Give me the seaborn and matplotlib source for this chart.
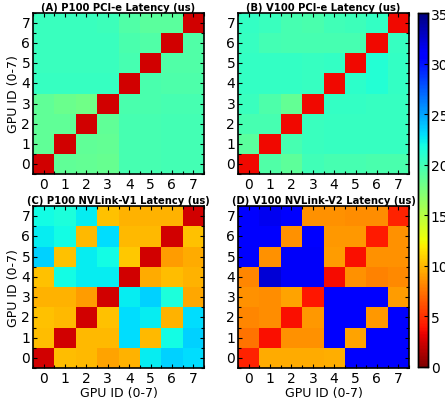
import numpy as np
import matplotlib
matplotlib.use("Agg")
import matplotlib.pyplot as plt
import seaborn as sns

gpu_ids = [0, 1, 2, 3, 4, 5, 6, 7]
titles = ["(A) P100 PCI-e Latency (us)", "(B) V100 PCI-e Latency (us)",
          "(C) P100 NVLink-V1 Latency (us)", "(D) V100 NVLink-V2 Latency (us)"]
axis_label = "GPU ID (0-7)"
cbar_ticks = [0, 5, 10, 15, 20, 25, 30, 35]

# rows: source GPU 0..7 (row 0 is drawn at the bottom), columns: GPU 0..7
p100_pcie = [
    [2.5, 18.6, 18.5, 18.4, 19.8, 19.8, 19.9, 19.9],
    [18.6, 2.5, 18.6, 18.5, 19.8, 19.8, 19.9, 19.9],
    [18.6, 18.6, 2.5, 18.6, 19.8, 19.8, 19.9, 19.9],
    [18.6, 18.2, 18.0, 2.5, 19.6, 19.6, 19.7, 19.7],
    [20.4, 20.4, 20.5, 20.5, 2.5, 19.6, 19.5, 19.5],
    [20.3, 20.3, 20.3, 20.3, 19.7, 2.5, 19.3, 19.3],
    [20.3, 20.3, 20.3, 20.3, 19.6, 19.4, 2.5, 19.3],
    [20.3, 20.3, 20.3, 20.2, 19.4, 19.0, 19.0, 2.5],
]
v100_pcie = [
    [3.5, 19.3, 18.8, 20.0, 19.8, 19.8, 19.6, 19.6],
    [19.0, 3.5, 19.8, 20.3, 20.5, 20.5, 20.4, 20.4],
    [19.8, 19.7, 3.5, 20.3, 20.5, 20.5, 20.4, 20.4],
    [20.3, 19.5, 18.5, 3.5, 20.6, 20.6, 20.4, 20.4],
    [20.6, 20.6, 20.6, 20.5, 3.5, 20.8, 21.2, 20.6],
    [20.6, 20.6, 20.6, 20.5, 20.6, 3.5, 21.2, 20.6],
    [20.5, 19.9, 19.8, 19.8, 19.8, 19.8, 3.5, 20.5],
    [20.6, 20.3, 19.8, 19.6, 20.0, 20.1, 20.6, 3.5],
]
p100_nvlink = [
    [2.5, 10.2, 10.0, 9.2, 9.8, 22.5, 23.5, 23.0],
    [10.2, 2.5, 10.0, 10.0, 23.0, 10.0, 22.0, 23.5],
    [10.3, 10.0, 2.5, 10.3, 23.0, 22.5, 9.8, 23.0],
    [9.8, 9.8, 9.0, 2.5, 22.5, 23.5, 21.5, 9.3],
    [10.3, 22.0, 22.5, 22.5, 2.5, 9.5, 10.2, 9.8],
    [23.5, 10.3, 22.5, 22.0, 10.6, 2.5, 9.0, 9.5],
    [22.5, 22.0, 10.0, 23.0, 10.0, 10.0, 2.5, 10.3],
    [22.0, 21.5, 22.5, 10.3, 9.8, 9.8, 9.8, 2.5],
]
v100_nvlink = [
    [4.5, 9.5, 9.5, 9.5, 9.6, 31.0, 31.0, 31.0],
    [7.5, 3.8, 8.6, 8.6, 31.0, 9.2, 31.0, 31.0],
    [8.2, 8.4, 3.8, 8.8, 31.0, 31.0, 8.8, 31.0],
    [8.6, 8.4, 9.2, 4.0, 31.0, 31.0, 31.0, 9.0],
    [8.2, 32.3, 31.2, 31.2, 3.6, 8.6, 8.0, 8.3],
    [31.0, 8.6, 31.2, 31.2, 9.0, 3.8, 8.6, 8.6],
    [31.0, 31.0, 8.6, 31.0, 8.8, 8.8, 4.2, 8.6],
    [31.0, 31.5, 31.0, 8.6, 8.6, 8.4, 8.4, 4.4],
]
datasets = [p100_pcie, v100_pcie, p100_nvlink, v100_nvlink]

fig = plt.figure(figsize=(4.45, 4.06), dpi=100)
W, H = 445, 406
def rect(l, t, r, b):
    return [l / W, 1 - b / H, (r - l) / W, (b - t) / H]

axes_rects = [rect(33, 14, 204, 175), rect(238, 14, 409, 175),
              rect(33, 207, 204, 369), rect(238, 207, 409, 369)]
cax = fig.add_axes(rect(418, 14, 428, 368))

for i, (data, title, r) in enumerate(zip(datasets, titles, axes_rects)):
    ax = fig.add_axes(r)
    arr = np.array(data)
    sns.heatmap(arr, ax=ax, cmap="jet_r", vmin=0, vmax=35,
                cbar=(i == 0), cbar_ax=cax if i == 0 else None,
                square=False, xticklabels=gpu_ids, yticklabels=gpu_ids)
    ax.invert_yaxis()
    ax.set_title(title, fontsize=7.2, fontweight="bold", pad=2)
    ax.set_xticks(np.arange(8) + 0.5)
    ax.set_xticklabels(gpu_ids, rotation=0, fontsize=10)
    ax.set_yticks(np.arange(8) + 0.5)
    ax.set_yticklabels(gpu_ids, rotation=0, fontsize=10)
    ax.set_xticks(np.arange(0, 9), minor=True)
    ax.set_yticks(np.arange(0, 9), minor=True)
    ax.tick_params(which="both", direction="in", top=True, right=True,
                   length=3, width=0.8, pad=2)
    ax.tick_params(which="minor", length=2)
    for s in ax.spines.values():
        s.set_visible(True)
        s.set_linewidth(1.2)
    if i % 2 == 0:
        ax.set_ylabel(axis_label, fontsize=9, labelpad=1)
    else:
        ax.set_ylabel("")
    if i >= 2:
        ax.set_xlabel(axis_label, fontsize=9, labelpad=1)
    else:
        ax.set_xlabel("")

cax.set_yticks(cbar_ticks)
cax.tick_params(labelsize=10, direction="in", length=3, pad=2)
for s in cax.spines.values():
    s.set_visible(True)
    s.set_linewidth(1.0)

fig.savefig("out.png", dpi=100)
